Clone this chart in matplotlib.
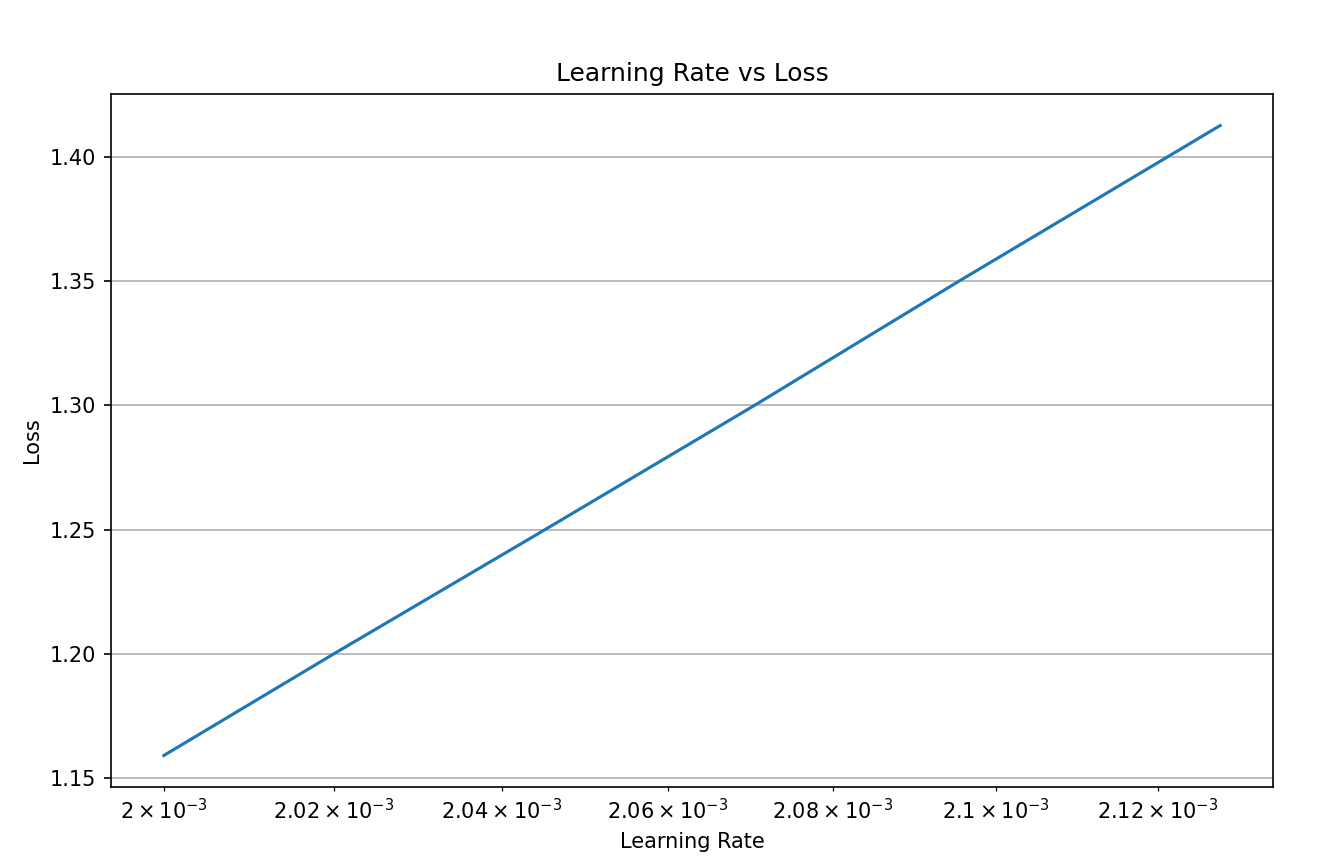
import numpy as np
import matplotlib
matplotlib.use("Agg")
import matplotlib.pyplot as plt

# values
learning_rates = [2.000e-3, 2.020e-3, 2.0452e-3, 2.0705e-3, 2.0955e-3, 2.1278e-3]
losses = [1.1592, 1.2000, 1.2500, 1.3000, 1.3500, 1.4125]

fig = plt.figure(figsize=(1329 / 150, 865 / 150))
fig.subplots_adjust(left=111 / 1329, right=1273 / 1329, top=1 - 94 / 865, bottom=1 - 787 / 865)
plt.plot(learning_rates, losses)
plt.xscale("log")
plt.xlabel("Learning Rate")
plt.ylabel("Loss")
plt.title("Learning Rate vs Loss")
plt.grid(True)
plt.savefig("out.png", dpi=150)
